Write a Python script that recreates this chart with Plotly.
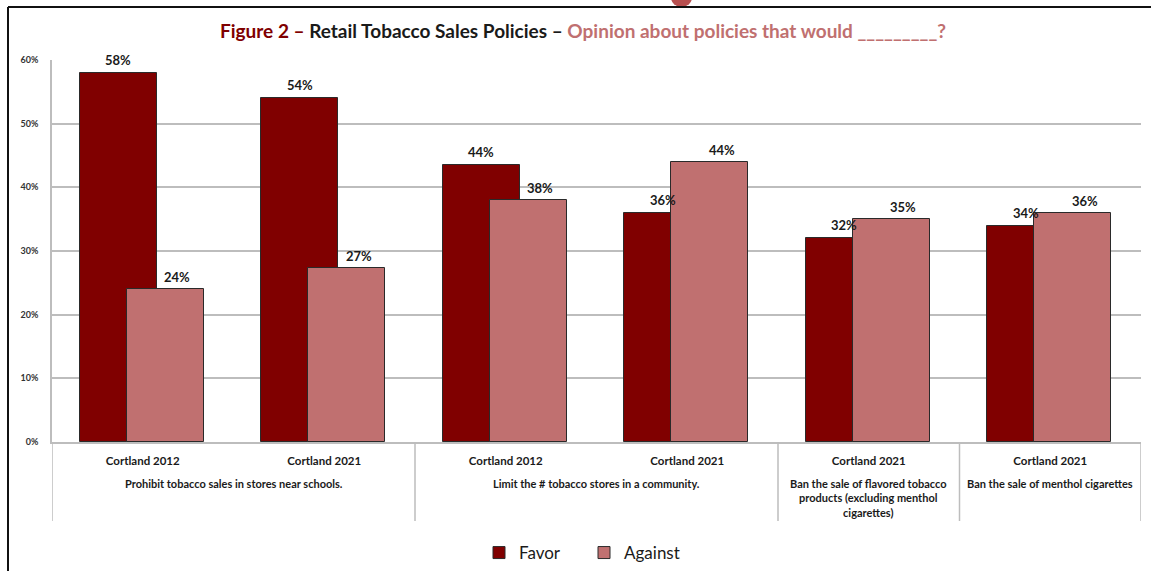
import plotly.graph_objects as go

# ---- data ----
years = ["Cortland 2012", "Cortland 2021", "Cortland 2012", "Cortland 2021", "Cortland 2021", "Cortland 2021"]
policies = [
    "Prohibit tobacco sales in stores near schools.",
    "Limit the # tobacco stores in a community.",
    "Ban the sale of flavored tobacco<br>products (excluding menthol<br>cigarettes)",
    "Ban the sale of menthol cigarettes",
]
policy_span = [(0, 1), (2, 3), (4, 4), (5, 5)]
favor = [58, 54, 43.5, 36, 32, 34]
against = [24, 27.3, 38, 44, 35, 36]
favor_lbl = ["58%", "54%", "44%", "36%", "32%", "34%"]
against_lbl = ["24%", "27%", "38%", "44%", "35%", "36%"]
y_ticks = [0, 10, 20, 30, 40, 50, 60]

FAVOR_C = "#800000"
AGAINST_C = "#c07070"
FONT = "Lato"

# plot area in pixels
W, H = 1151, 571
L, R, T, B = 52, 10, 60, 129
pw, ph = W - L - R, H - T - B
def px(x): return (x - L) / pw
def py(y): return (H - B - y) / ph

BAR_W = 0.424
FAV_OFF = -0.346
AGA_OFF = -0.087

xs = list(range(len(years)))

fig = go.Figure()
fig.add_trace(go.Bar(
    x=xs, y=favor, name="Favor", width=BAR_W, offset=FAV_OFF,
    marker=dict(color=FAVOR_C, line=dict(color="#2a2a2a", width=1)),
))
fig.add_trace(go.Bar(
    x=xs, y=against, name="Against", width=BAR_W, offset=AGA_OFF,
    marker=dict(color=AGAINST_C, line=dict(color="#2a2a2a", width=1)),
))

shapes = []
# dividers under the axis
for xv in [-0.5, 1.5, 3.5, 4.5, 5.5]:
    shapes.append(dict(type="line", xref="x", yref="paper", x0=xv, x1=xv,
                       y0=0, y1=py(521), line=dict(color="#bdbdbd", width=1.5)))
# outer frame lines
shapes.append(dict(type="line", xref="paper", yref="paper", x0=px(8), x1=px(1151),
                   y0=py(7), y1=py(7), line=dict(color="#111111", width=2)))
shapes.append(dict(type="line", xref="paper", yref="paper", x0=px(8), x1=px(8),
                   y0=py(7), y1=py(571), line=dict(color="#111111", width=2)))
# small red blob at top edge
shapes.append(dict(type="circle", xref="paper", yref="paper", x0=px(671), x1=px(692),
                   y0=py(-12), y1=py(7), fillcolor="#b85050", line=dict(width=0), layer="below"))

annotations = []
lbl_font = dict(family=FONT, size=13, color="#1a1a1a", weight="bold")
for i in xs:
    annotations.append(dict(x=i + FAV_OFF + BAR_W / 2, y=favor[i], xref="x", yref="y",
                            text=favor_lbl[i], showarrow=False, yanchor="middle",
                            yshift=13, font=lbl_font))
    annotations.append(dict(x=i + AGA_OFF + BAR_W / 2 + 0.066, y=against[i], xref="x", yref="y",
                            text=against_lbl[i], showarrow=False, yanchor="middle",
                            yshift=12, font=lbl_font))
for (a, b), txt in zip(policy_span, policies):
    annotations.append(dict(x=(a + b) / 2, xref="x", y=py(475), yref="paper",
                            text=txt, showarrow=False, yanchor="top",
                            font=dict(family=FONT, size=11, color="#1a1a1a", weight="bold")))
title_txt = ("<span style='color:#7f0000'>Figure 2 – </span>"
             "<span style='color:#1a1a1a'>Retail Tobacco Sales Policies – </span>"
             "<span style='color:#c07070'>Opinion about policies that would _________?</span>")
annotations.append(dict(x=px(583), y=py(30), xref="paper", yref="paper", text=title_txt,
                        showarrow=False, xanchor="center", yanchor="middle",
                        font=dict(family=FONT, size=19, weight="bold")))

fig.update_layout(
    width=W, height=H,
    margin=dict(l=L, r=R, t=T, b=B, pad=0, autoexpand=False),
    paper_bgcolor="white", plot_bgcolor="white",
    barmode="overlay",
    showlegend=True,
    legend=dict(orientation="h", xref="container", yref="container",
                x=584 / W, xanchor="center", y=(H - 553) / H, yanchor="middle",
                entrywidth=60, entrywidthmode="pixels",
                font=dict(family=FONT, size=17, color="#1a1a1a"), traceorder="normal"),
    xaxis=dict(range=[-0.5, 5.5], tickmode="array", tickvals=xs, ticktext=years,
               showgrid=False, showline=True, linecolor="#bdbdbd", linewidth=1.5,
               ticks="", ticklabelstandoff=7, automargin=False,
               tickfont=dict(family=FONT, size=11.5, color="#1a1a1a", weight="bold")),
    yaxis=dict(range=[0, 60], tickmode="array", tickvals=y_ticks,
               ticktext=[f"{v}%" for v in y_ticks],
               showgrid=True, gridcolor="#bdbdbd", gridwidth=1.5,
               showline=True, linecolor="#bdbdbd", linewidth=1.5,
               zeroline=False, ticks="", ticklabelstandoff=10, automargin=False,
               tickfont=dict(family=FONT, size=9, color="#333333", weight="bold")),
    shapes=shapes,
    annotations=annotations,
    bargap=0,
)

fig.write_html("out.html", config={"displayModeBar": False})
with open("out.html", "r", encoding="utf-8") as f:
    html = f.read()
html = html.replace("<head>", "<head><style>html,body{margin:0;padding:0;overflow:hidden;}</style>", 1)
with open("out.html", "w", encoding="utf-8") as f:
    f.write(html)
